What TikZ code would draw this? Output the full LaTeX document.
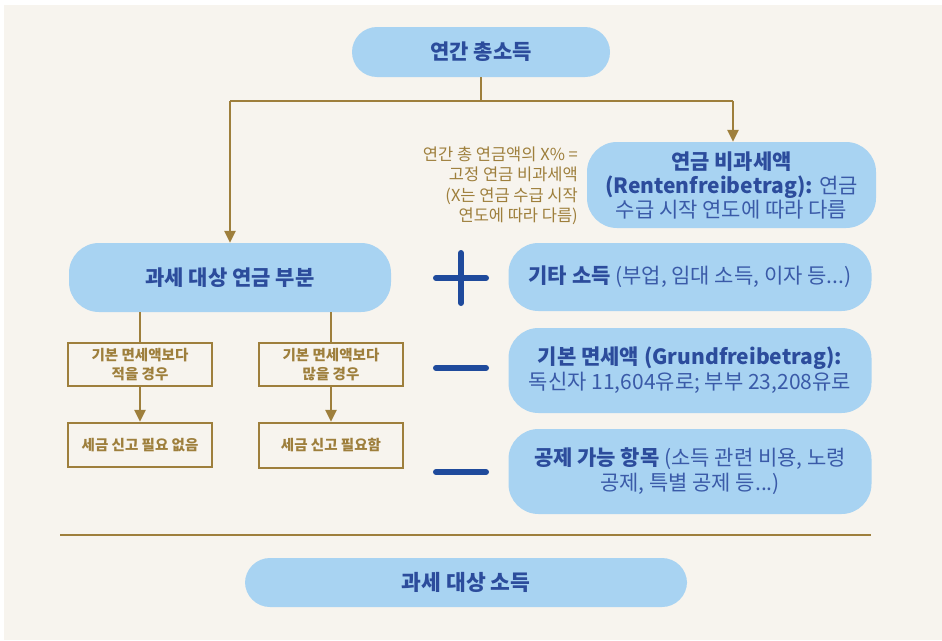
\documentclass[tikz,border=0pt]{standalone}
\usepackage{fontspec}
\setmainfont{Noto Sans CJK KR}
\usetikzlibrary{arrows.meta}
\definecolor{panelbg}{HTML}{F7F4EE}
\definecolor{boxblue}{HTML}{A8D3F2}
\definecolor{txtblue}{HTML}{2C4C9C}
\definecolor{regblue}{HTML}{3A5AA8}
\definecolor{gold}{HTML}{9E7F3C}
\definecolor{signblue}{HTML}{1F4A9C}
\tikzset{
  pill/.style={fill=boxblue, draw=none, rounded corners=#1, inner sep=0pt, align=center, text=txtblue},
  pill/.default=25pt,
  goldbox/.style={draw=gold, line width=2.5pt, fill=panelbg, inner sep=0pt, align=center, text=gold,
     minimum width=144pt, font=\fontsize{14.5}{19}\selectfont\bfseries},
  conn/.style={draw=gold, line width=2.5pt},
  arr/.style={conn, -{Triangle[width=11pt,length=12pt]}},
  sign/.style={draw=signblue, line width=6pt, line cap=round}
}
\begin{document}
\begin{tikzpicture}[x=1pt,y=-1pt]
\useasboundingbox (0,0) rectangle (942,640);
\fill[white] (0,0) rectangle (942,640);
\fill[panelbg] (4,5) rectangle (942,640);

\node[pill=25pt, minimum width=258pt, minimum height=50pt, font=\fontsize{21}{24}\selectfont\bfseries] (top) at (481,52) {연간 총소득};

\node[pill=30pt, minimum width=289pt, minimum height=86pt, font=\fontsize{21}{24}\selectfont] (nontax) at (731.5,185)
  {\textbf{연금 비과세액}\\\textbf{(Rentenfreibetrag):} \textcolor{regblue}{연금}\\\textcolor{regblue}{수급 시작 연도에 따라 다름}};

\node[anchor=east, align=right, text=gold, inner sep=0pt, font=\fontsize{16.5}{20.5}\selectfont] (note) at (578,186)
  {연간 총 연금액의 X\% =\\고정 연금 비과세액\\(X는 연금 수급 시작\\연도에 따라 다름)};

\node[pill=30pt, minimum width=322pt, minimum height=69pt, font=\fontsize{21}{24}\selectfont\bfseries] (taxpart) at (230,277.5) {과세 대상 연금 부분};

\node[pill=30pt, minimum width=363pt, minimum height=68pt, font=\fontsize{21}{25}\selectfont] (r1) at (690,277)
  {\textbf{기타 소득} \textcolor{regblue}{(부업, 임대 소득, 이자 등...)}};
\node[pill=30pt, minimum width=363pt, minimum height=85pt, font=\fontsize{21}{25}\selectfont] (r2) at (690,370.5)
  {\textbf{기본 면세액 (Grundfreibetrag):}\\\textcolor{regblue}{독신자 11,604유로; 부부 23,208유로}};
\node[pill=30pt, minimum width=363pt, minimum height=85pt, font=\fontsize{21}{25}\selectfont] (r3) at (690,471.5)
  {\textbf{공제 가능 항목} \textcolor{regblue}{(소득 관련 비용, 노령}\\\textcolor{regblue}{공제, 특별 공제 등...)}};

\node[goldbox, minimum height=43pt] (b1) at (140,364.5) {기본 면세액보다\\적을 경우};
\node[goldbox, minimum height=43pt] (b2) at (331,364.5) {기본 면세액보다\\많을 경우};
\node[goldbox, minimum height=44pt] (b3) at (140,445) {세금 신고 필요 없음};
\node[goldbox, minimum height=45pt] (b4) at (331,445.5) {세금 신고 필요함};

\node[pill=25pt, minimum width=442pt, minimum height=49pt, font=\fontsize{21.5}{24}\selectfont\bfseries] (bottom) at (466,582.5) {과세 대상 소득};

% connectors
\coordinate (jl) at (230,101);
\coordinate (jr) at (733,101);
\draw[conn] (top.south) -- (top.south |- jl);
\draw[conn] (jl) -- (jr);
\draw[arr] (jl) -- (taxpart.north);
\draw[arr] (jr) -- (jr |- nontax.north);
\draw[conn] (taxpart.south -| b1.north) -- (b1.north);
\draw[conn] (taxpart.south -| b2.north) -- (b2.north);
\draw[arr] (b1.south) -- (b3.north);
\draw[arr] (b2.south) -- (b4.north);

% separator
\draw[gold, line width=2.5pt] (60,535) -- (871,535);

% signs
\draw[sign] (436,278) -- (486,278);
\draw[sign] (461,253) -- (461,303);
\draw[sign] (436,368) -- (486,368);
\draw[sign] (436,472) -- (486,472);
\end{tikzpicture}
\end{document}
